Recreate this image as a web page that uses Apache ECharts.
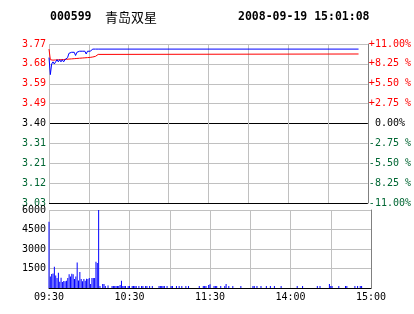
<!DOCTYPE html>
<html><head><meta charset="utf-8">
<script src="https://cdn.jsdelivr.net/npm/echarts@6/dist/echarts.min.js"></script>
<style>html,body{margin:0;padding:0;background:#fff}#c{width:414px;height:314px}</style>
</head><body><div id="c"></div>
<script>
// ---- data ----
const stockCode = '000599';
const stockName = '青岛双星';
const stamp = '2008-09-19 15:01:08';
const prevClose = 3.40;

const priceTickLabels = ['3.03','3.12','3.21','3.31','3.40','3.49','3.59','3.68','3.77'];
const pctTickLabels = ['-11.00%','-8.25 %','-5.50 %','-2.75 %',' 0.00%','+2.75 %','+5.50 %','+8.25 %','+11.00%'];
const volTickLabels = ['','1500','3000','4500','6000'];
const timeTickMinutes = [0,60,120,180,240];
const timeTickLabels = ['09:30','10:30','11:30','14:00','15:00'];

const lineMinutes = [0,1,2,3,4,5,6,7,8,9,10,11,12,13,14,15,16,17,18,19,20,21,22,23,24,25,26,27,28,29,30,31,32,33,34,35,36,37,233];
const price = [3.71,3.63,3.68,3.69,3.68,3.69,3.70,3.69,3.70,3.69,3.70,3.69,3.70,3.70,3.71,3.73,3.735,3.735,3.73,3.735,3.72,3.735,3.74,3.74,3.74,3.74,3.74,3.74,3.727,3.74,3.74,3.74,3.74,3.75,3.75,3.75,3.75,3.75,3.75];
const avgPrice = [3.75,3.70,3.698,3.698,3.698,3.699,3.699,3.70,3.70,3.70,3.70,3.701,3.701,3.702,3.702,3.703,3.703,3.704,3.704,3.705,3.705,3.706,3.706,3.707,3.707,3.708,3.708,3.709,3.71,3.71,3.711,3.711,3.712,3.713,3.714,3.716,3.72,3.725,3.727];

const volMinutes = [0,1,2,3,4,5,6,7,8,9,10,11,12,13,14,15,16,17,18,19,20,21,22,23,24,25,26,27,28,29,30,31,32,33,34,35,36,37,
  38,40,41,42,44,47,48,49,50,51,52,53,54,55,56,57,59,60,62,63,64,65,67,69,70,72,73,75,77,82,83,84,85,86,88,91,92,95,97,99,102,104,
  112,115,116,117,119,120,123,124,125,128,131,132,134,137,143,152,153,155,158,162,165,168,173,185,189,200,202,209,210,211,216,221,222,228,230,232,233];
const volValues = [5100,890,1080,1120,1640,970,770,1180,480,790,460,540,510,560,770,1050,890,1100,1050,690,890,1970,580,1230,690,510,690,560,720,690,770,300,770,770,770,2020,1920,6000,
  150,300,300,150,200,150,150,150,150,150,150,230,560,150,150,150,150,150,150,150,150,150,150,150,150,150,150,150,150,150,150,150,150,150,150,150,150,150,150,150,150,150,
  150,150,150,150,230,280,150,150,150,150,150,300,150,150,150,150,150,150,150,150,150,150,150,150,150,150,150,300,150,150,150,150,150,150,150,150,150];

// ---- build ----
const MONO = '"DejaVu Sans Mono", monospace';
const RED = '#ff0000', GREEN = '#006633', GRID = '#c0c0c0', BORDER = '#808080';
const toPct = p => (p / prevClose - 1) * 100;
const idxOfPct = v => Math.round((v + 11) / 2.75);
const pctColor = v => v > 0.001 ? RED : (v < -0.001 ? GREEN : '#000');

const priceData = lineMinutes.map((m, i) => [m, toPct(price[i])]);
const avgData = lineMinutes.map((m, i) => [m, toPct(avgPrice[i])]);
const volData = volMinutes.map((m, i) => [m, volValues[i]]);

const chart = echarts.init(document.getElementById('c'), null, {renderer: 'canvas'});
chart.setOption({
  animation: false,
  backgroundColor: '#fff',
  graphic: [
    {type: 'text', x: 50, y: 17, style: {text: stockCode, fill: '#000', font: 'bold 11.5px ' + MONO, verticalAlign: 'middle', align: 'left'}},
    {type: 'text', x: 105, y: 17, style: {text: stockName, fill: '#000', font: '13px "Noto Sans CJK SC"', verticalAlign: 'middle', align: 'left'}},
    {type: 'text', x: 238, y: 17, style: {text: stamp, fill: '#000', font: 'bold 11.5px ' + MONO, verticalAlign: 'middle', align: 'left'}}
  ],
  grid: [
    {left: 49, top: 44, width: 322, height: 159},
    {left: 49, top: 210, width: 322, height: 78}
  ],
  xAxis: [
    {type: 'value', gridIndex: 0, min: 0, max: 240, interval: 30,
     axisLine: {show: false}, axisTick: {show: false}, axisLabel: {show: false},
     splitLine: {show: true, lineStyle: {color: GRID, width: 1}}},
    {type: 'value', gridIndex: 1, min: 0, max: 240, interval: 30,
     axisLine: {show: true, onZero: false, lineStyle: {color: '#000', width: 1}}, axisTick: {show: false},
     axisLabel: {show: true, margin: 4, fontFamily: MONO, fontSize: 10, color: '#000',
       formatter: v => { const k = timeTickMinutes.indexOf(Math.round(v)); return k >= 0 ? timeTickLabels[k] : ''; }},
     splitLine: {show: true, lineStyle: {color: GRID, width: 1}}}
  ],
  yAxis: [
    {type: 'value', gridIndex: 0, min: -11, max: 11, interval: 2.75, position: 'left',
     axisLine: {show: false}, axisTick: {show: false},
     axisLabel: {margin: 3, fontFamily: MONO, fontSize: 10, color: v => pctColor(v),
       formatter: v => priceTickLabels[idxOfPct(v)]},
     splitLine: {show: true, lineStyle: {width: 1,
       color: ['#000', GRID, GRID, GRID, '#000', GRID, GRID, GRID, GRID]}}},
    {type: 'value', gridIndex: 0, min: -11, max: 11, interval: 2.75, position: 'right',
     axisLine: {show: true, lineStyle: {color: BORDER, width: 1}}, axisTick: {show: false},
     axisLabel: {margin: 1, fontFamily: MONO, fontSize: 10, align: 'left', color: v => pctColor(v),
       formatter: v => pctTickLabels[idxOfPct(v)]},
     splitLine: {show: false}},
    {type: 'value', gridIndex: 1, min: 0, max: 6000, interval: 1500, position: 'left',
     axisLine: {show: false}, axisTick: {show: false},
     axisLabel: {margin: 3, fontFamily: MONO, fontSize: 10, color: '#000',
       formatter: v => volTickLabels[Math.round(v / 1500)]},
     splitLine: {show: true, lineStyle: {color: GRID, width: 1}}},
    {type: 'value', gridIndex: 1, min: 0, max: 6000, interval: 1500, position: 'right',
     axisLine: {show: true, lineStyle: {color: BORDER, width: 1}}, axisTick: {show: false},
     axisLabel: {show: false}, splitLine: {show: false}}
  ],
  series: [
    {type: 'bar', xAxisIndex: 1, yAxisIndex: 2, data: volData, barWidth: 1,
     itemStyle: {color: '#0000ff'}, silent: true},
    {type: 'line', xAxisIndex: 0, yAxisIndex: 0, data: avgData, showSymbol: false,
     lineStyle: {color: RED, width: 1}, silent: true},
    {type: 'line', xAxisIndex: 0, yAxisIndex: 0, data: priceData, showSymbol: false,
     lineStyle: {color: '#0000ff', width: 1}, silent: true}
  ]
});
</script></body></html>
